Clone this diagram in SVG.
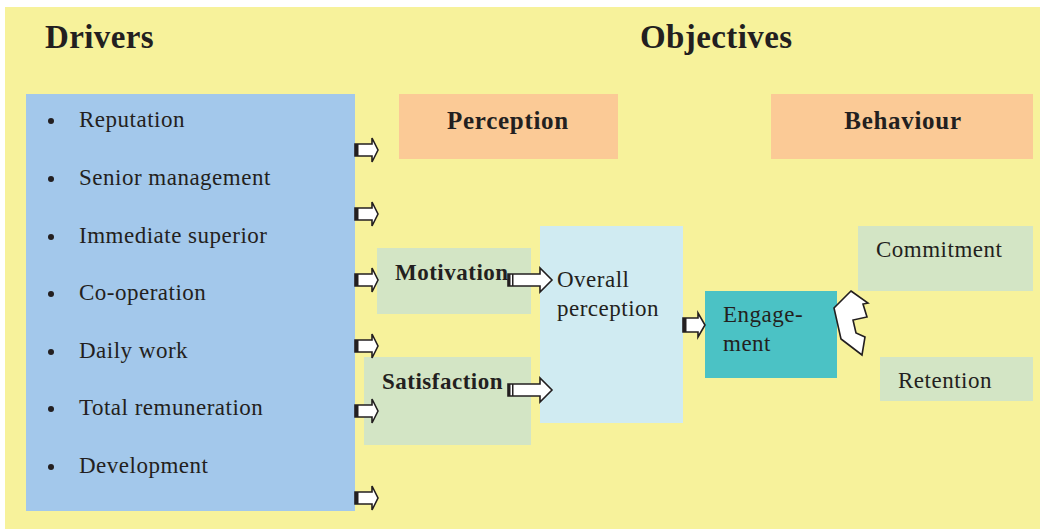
<svg xmlns="http://www.w3.org/2000/svg" width="1040" height="529" viewBox="0 0 1040 529">
  <defs>
    <style>
      .txt { font-family: "Liberation Serif", "Times New Roman", serif; fill: #231f20; }
      .head { font-size: 33px; font-weight: bold; letter-spacing: 0.4px; }
      .sub { font-size: 25px; font-weight: bold; letter-spacing: 0.7px; }
      .item { font-size: 23px; letter-spacing: 0.5px; }
      .lbl { font-size: 23px; letter-spacing: 0.5px; }
      .arrow { fill: #ffffff; stroke: #231f20; stroke-width: 1.6; stroke-linejoin: miter; }
      .tail { fill: #231f20; }
    </style>
    <!-- small block arrow, origin at tail centre -->
    <g id="blk">
      <path class="arrow" d="M0,-6 H17 V-12 L23,0 L17,12 V6 H0 Z"/>
      <rect class="tail" x="0" y="-6" width="3.5" height="12"/>
    </g>
  </defs>

  <!-- backdrop -->
  <rect x="5" y="7" width="1035" height="522" fill="#f7f29b"/>

  <text class="txt head" x="45" y="48">Drivers</text>
  <text class="txt head" x="640" y="48">Objectives</text>

  <g id="drivers">
    <rect x="26" y="94" width="329" height="417" fill="#a3c8eb"/>
    <g class="txt item">
      <circle cx="51" cy="121" r="3" fill="#231f20"/>
      <text x="79" y="127">Reputation</text>
      <circle cx="51" cy="179" r="3" fill="#231f20"/>
      <text x="79" y="185">Senior management</text>
      <circle cx="51" cy="237" r="3" fill="#231f20"/>
      <text x="79" y="243">Immediate superior</text>
      <circle cx="51" cy="294" r="3" fill="#231f20"/>
      <text x="79" y="300">Co-operation</text>
      <circle cx="51" cy="352" r="3" fill="#231f20"/>
      <text x="79" y="358">Daily work</text>
      <circle cx="51" cy="409" r="3" fill="#231f20"/>
      <text x="79" y="415">Total remuneration</text>
      <circle cx="51" cy="467" r="3" fill="#231f20"/>
      <text x="79" y="473">Development</text>
    </g>
  </g>

  <g id="perception">
    <rect x="399" y="94" width="219" height="65" fill="#fbca96"/>
    <text class="txt sub" x="508" y="129" text-anchor="middle">Perception</text>
  </g>

  <g id="behaviour">
    <rect x="771" y="94" width="262" height="65" fill="#fbca96"/>
    <text class="txt sub" x="903" y="129" text-anchor="middle">Behaviour</text>
  </g>

  <g id="motivation">
    <rect x="377" y="248" width="154" height="66" fill="#d3e5c5"/>
    <text class="txt lbl" x="395" y="280" font-weight="bold">Motivation</text>
  </g>

  <g id="satisfaction">
    <rect x="364" y="357" width="167" height="88" fill="#d3e5c5"/>
    <text class="txt lbl" x="382" y="389" font-weight="bold">Satisfaction</text>
  </g>

  <g id="overall">
    <rect x="540" y="226" width="143" height="197" fill="#d0ebf2"/>
    <text class="txt lbl" x="557" y="287">Overall</text>
    <text class="txt lbl" x="557" y="316">perception</text>
  </g>

  <g id="engagement">
    <rect x="705" y="291" width="132" height="87" fill="#4bc2c5"/>
    <text class="txt lbl" x="723" y="322">Engage-</text>
    <text class="txt lbl" x="723" y="351">ment</text>
  </g>

  <g id="commitment">
    <rect x="858" y="226" width="175" height="65" fill="#d3e5c5"/>
    <text class="txt lbl" x="876" y="257">Commitment</text>
  </g>

  <g id="retention">
    <rect x="880" y="357" width="153" height="44" fill="#d3e5c5"/>
    <text class="txt lbl" x="898" y="388">Retention</text>
  </g>

  <g id="connectors">
    <!-- driver arrows -->
    <use href="#blk" x="355" y="150"/>
    <use href="#blk" x="355" y="214"/>
    <use href="#blk" x="355" y="280"/>
    <use href="#blk" x="355" y="346"/>
    <use href="#blk" x="355" y="411"/>
    <use href="#blk" x="355" y="498"/>

    <!-- motivation to overall perception -->
    <path class="arrow" d="M508,274 H540 V268 L552,280 L540,292 V286 H508 Z"/>
    <rect class="tail" x="508" y="274" width="2.5" height="12"/>
    <rect class="tail" x="512" y="274" width="1.5" height="12"/>

    <!-- satisfaction to overall perception -->
    <path class="arrow" d="M508,384 H540 V378 L552,390 L540,402 V396 H508 Z"/>
    <rect class="tail" x="508" y="384" width="2.5" height="12"/>
    <rect class="tail" x="512" y="384" width="1.5" height="12"/>

    <!-- overall perception to engagement -->
    <path class="arrow" d="M683,318 H698 V313 L705,325 L698,337 V332 H683 Z"/>
    <rect class="tail" x="683" y="318" width="3.5" height="14"/>

    <!-- engagement to commitment / retention -->
    <path class="arrow" stroke-width="2" d="M851,291 L868,303 L863,304 L867,317 L853,320 L856,333 L865,337 L862,355 L845,342 L841,339 L834,308 Z"/>
  </g>
</svg>
